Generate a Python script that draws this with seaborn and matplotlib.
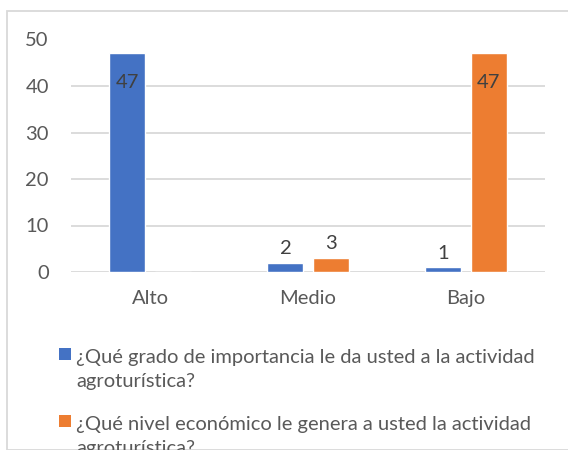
import matplotlib
matplotlib.use("Agg")
import matplotlib.pyplot as plt
import seaborn as sns
import pandas as pd
from matplotlib.patches import Rectangle

categories = ["Alto", "Medio", "Bajo"]
series_names = [
    "¿Qué grado de importancia le da usted a la actividad\nagroturística?",
    "¿Qué nivel económico le genera a usted la actividad\nagroturística?",
]
values_importancia = [47, 2, 1]
values_economico = [0, 3, 47]
y_ticks = [0, 10, 20, 30, 40, 50]
colors = ["#4472C4", "#ED7D31"]

df = pd.DataFrame({
    "categoria": categories * 2,
    "valor": values_importancia + values_economico,
    "serie": [series_names[0]] * 3 + [series_names[1]] * 3,
})

sns.set_theme(style="white")
plt.rcParams["font.family"] = ["Lato", "DejaVu Sans"]
text_color = "#595959"
label_color = "#404040"
grid_color = "#D9D9D9"
FS = 14.5

W, H = 568, 450
fig = plt.figure(figsize=(W / 100, H / 100), dpi=100)
ax = fig.add_axes([71 / W, 1 - 272 / H, (545 - 71) / W, (272 - 39.5) / H])

sns.barplot(data=df, x="categoria", y="valor", hue="serie", order=categories,
            hue_order=series_names, palette=colors, width=0.57, gap=0.2,
            saturation=1, ax=ax, legend=False, zorder=3)

ax.set_ylim(0, 50)
ax.set_yticks(y_ticks)
ax.set_xlim(-0.5, 2.5)
ax.set_xlabel("")
ax.set_ylabel("")
ax.yaxis.grid(True, color=grid_color, linewidth=1.3, zorder=0)
ax.set_axisbelow(True)
for s in ax.spines.values():
    s.set_visible(False)
ax.tick_params(axis="both", length=0, labelsize=FS, labelcolor=text_color)
ax.tick_params(axis="y", pad=16)
ax.tick_params(axis="x", pad=13)

for ci, cont in enumerate(ax.containers):
    vals = [values_importancia, values_economico][ci]
    big = [str(v) if v >= 10 else "" for v in vals]
    small = [str(v) if 0 < v < 10 else "" for v in vals]
    ax.bar_label(cont, labels=big, padding=-27, fontsize=FS, color=label_color)
    ax.bar_label(cont, labels=small, padding=4, fontsize=FS, color=label_color)

# legend (drawn manually for exact Office-like spacing)
entry_top = [348, 415]
line_gap = 24
for i, name in enumerate(series_names):
    y0 = entry_top[i]
    fig.patches.append(Rectangle((59 / W, 1 - (y0 + 12) / H), 12 / W, 12 / H,
                                 transform=fig.transFigure, facecolor=colors[i],
                                 edgecolor="none"))
    for j, line in enumerate(name.split("\n")):
        fig.text(76 / W, 1 - (y0 + 15 + j * line_gap) / H, line, fontsize=FS,
                 color=text_color, va="baseline", ha="left")

border = Rectangle((6.5 / W, 0), 1.0, 1 - 10.5 / H, transform=fig.transFigure,
                   fill=False, edgecolor=grid_color, linewidth=1.3, clip_on=False)
fig.patches.append(border)

fig.savefig("out.png", dpi=100)
